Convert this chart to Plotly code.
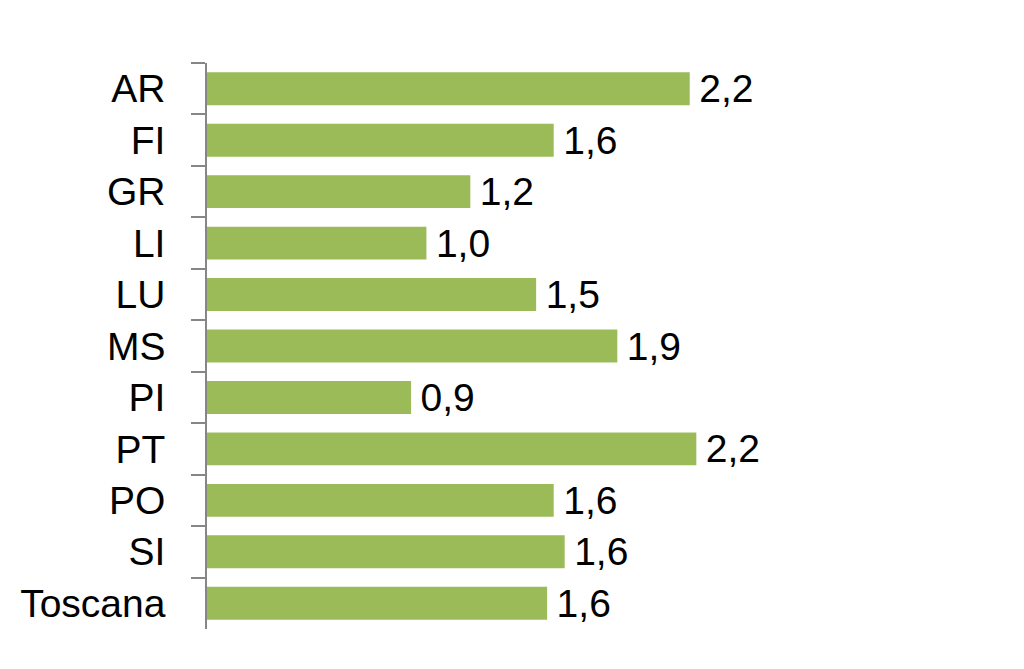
import plotly.graph_objects as go

categories = ["AR", "FI", "GR", "LI", "LU", "MS", "PI", "PT", "PO", "SI", "Toscana"]
values = [2.20, 1.58, 1.20, 1.00, 1.50, 1.87, 0.93, 2.23, 1.58, 1.63, 1.55]
labels = ["2,2", "1,6", "1,2", "1,0", "1,5", "1,9", "0,9", "2,2", "1,6", "1,6", "1,6"]

fig = go.Figure(go.Bar(
    y=categories, x=values, orientation="h",
    marker=dict(color="#9BBB59", line=dict(width=0)),
    text=labels, texttemplate="\u2006%{text}", textposition="outside", cliponaxis=False,
    constraintext="none",
    textfont=dict(size=39, color="#000000", family="Liberation Sans"),
    width=0.64,
))

fig.update_layout(
    width=1024, height=669,
    margin=dict(l=199, r=57, t=55, b=48, autoexpand=False),
    paper_bgcolor="white", plot_bgcolor="white",
    showlegend=False,
    font=dict(family="Liberation Sans", size=39, color="#000000"),
    xaxis=dict(range=[0, 3.5], visible=False, fixedrange=True, automargin=False),
    yaxis=dict(
        autorange="reversed", type="category", automargin=False,
        showline=True, linecolor="#868686", linewidth=1.5,
        ticks="outside", ticklen=14, tickcolor="#868686", tickwidth=1.5,
        tickson="boundaries", showgrid=False,
        ticklabelstandoff=32,
        tickfont=dict(size=39, color="#000000", family="Liberation Sans"),
    ),
    bargap=0.36,
)

fig.write_html("out.html")
